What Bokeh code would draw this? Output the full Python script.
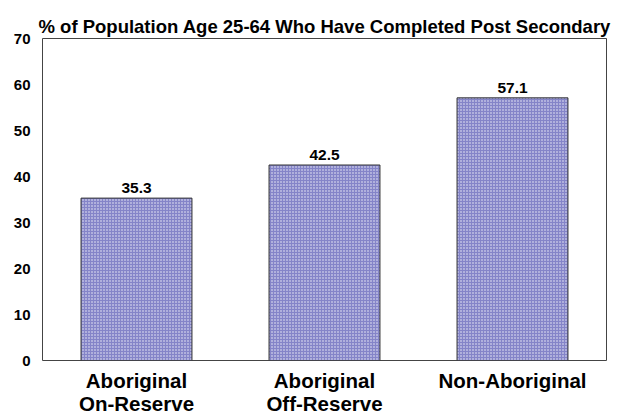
from bokeh.plotting import figure
from bokeh.models import ColumnDataSource, Range1d, FixedTicker, LabelSet
from bokeh.core.properties import value
from bokeh.embed import file_html
from bokeh.resources import INLINE

categories = ["Aboriginal\nOn-Reserve", "Aboriginal\nOff-Reserve", "Non-Aboriginal"]
values = [35.3, 42.5, 57.1]
labels = ["35.3", "42.5", "57.1"]
y_ticks = [0, 10, 20, 30, 40, 50, 60, 70]

FONT = "Liberation Sans"

src = ColumnDataSource(dict(cat=categories, val=values, lab=labels))

p = figure(x_range=categories, y_range=Range1d(0, 70), width=622, height=417,
           output_backend="svg", toolbar_location=None,
           min_border_left=42, min_border_right=16, min_border_top=38, min_border_bottom=57)

p.title.text = "% of Population Age 25-64 Who Have Completed Post Secondary"
p.title.text_font = FONT
p.title.text_font_size = "18.5px"
p.title.text_font_style = "bold"
p.title.text_color = "black"
p.title.align = "left"
p.title.offset = -4
p.title.standoff = 3

p.vbar(x="cat", top="val", width=0.59, source=src,
       fill_color="#8484c8", line_color="#333333", line_width=1,
       hatch_pattern=".", hatch_color="white", hatch_scale=3, hatch_alpha=0.9)

p.add_layout(LabelSet(x="cat", y="val", text="lab", source=src,
                      text_align="center", text_baseline="bottom", y_offset=5,
                      text_font=value(FONT), text_font_size=value("15.5px"),
                      text_font_style="bold", text_color="black"))

p.xgrid.visible = False
p.ygrid.visible = False
p.outline_line_color = "#444444"
p.outline_line_width = 1

p.yaxis.ticker = FixedTicker(ticks=y_ticks)
p.yaxis.major_tick_line_color = None
p.yaxis.minor_tick_line_color = None
p.yaxis.major_tick_out = 0
p.yaxis.major_tick_in = 0
p.yaxis.axis_line_color = None
p.yaxis.major_label_text_font = FONT
p.yaxis.major_label_text_font_size = "15px"
p.yaxis.major_label_text_font_style = "bold"
p.yaxis.major_label_text_color = "black"
p.yaxis.major_label_standoff = 12

p.xaxis.major_tick_line_color = None
p.xaxis.major_tick_out = 0
p.xaxis.major_tick_in = 0
p.xaxis.axis_line_color = None
p.xaxis.major_label_text_font = FONT
p.xaxis.major_label_text_font_size = "20.5px"
p.xaxis.major_label_text_font_style = "bold"
p.xaxis.major_label_text_color = "black"
p.xaxis.major_label_text_line_height = 1.0
p.xaxis.major_label_standoff = 8
p.x_range.range_padding = 0

open("out.html", "w").write(file_html(p, INLINE))
